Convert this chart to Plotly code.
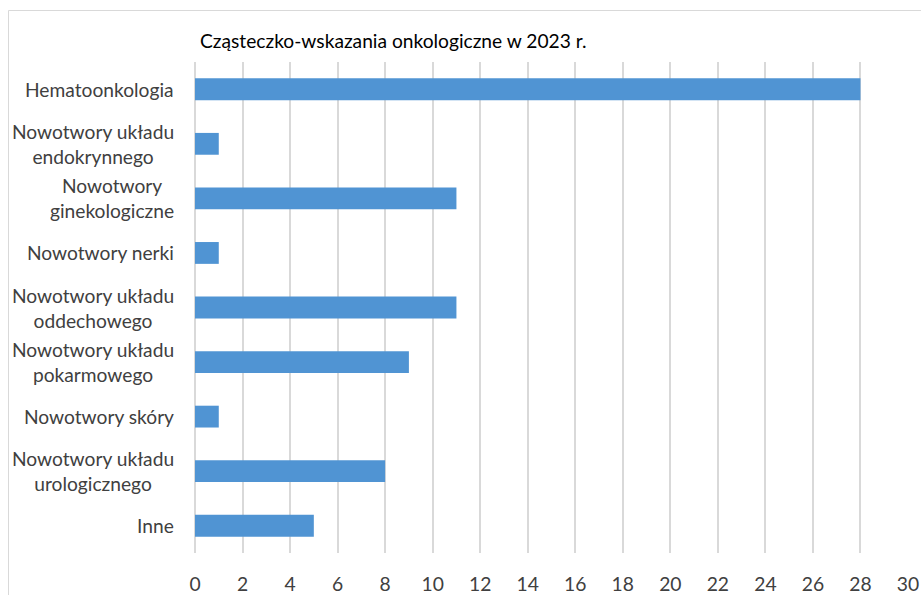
import plotly.graph_objects as go

categories = [
    "Hematoonkologia",
    "Nowotwory układu<br>endokrynnego",
    "Nowotwory<br>ginekologiczne",
    "Nowotwory nerki",
    "Nowotwory układu<br>oddechowego",
    "Nowotwory układu<br>pokarmowego",
    "Nowotwory skóry",
    "Nowotwory układu<br>urologicznego",
    "Inne",
]
values = [28, 1, 11, 1, 11, 9, 1, 8, 5]
title_text = "Cząsteczko-wskazania onkologiczne w 2023 r."
x_ticks = list(range(0, 31, 2))

W, H = 921, 595
ML, MR, MT, MB = 195, 13, 62, 42
FONT = "Lato, 'Noto Sans', sans-serif"
GRID = "#d9d9d9"

fig = go.Figure(
    go.Bar(
        y=categories,
        x=values,
        orientation="h",
        marker=dict(color="#5094d3", line=dict(width=0)),
        hoverinfo="x+y",
    )
)

annotations = [
    dict(
        x=0, xref="paper", xanchor="right", xshift=-19,
        y=c, yref="y", yanchor="middle",
        text=c, showarrow=False, align="center",
        font=dict(family=FONT, size=19.2, color="#404040"),
    )
    for c in categories
]

pw = W - ML - MR
ph = H - MT - MB
fig.update_layout(
    width=W, height=H,
    margin=dict(l=ML, r=MR, t=MT, b=MB, autoexpand=False),
    paper_bgcolor="white", plot_bgcolor="white",
    showlegend=False,
    bargap=0.6,
    title=dict(
        text=title_text, x=200 / W, xanchor="left", xref="container",
        y=1 - 41 / H, yanchor="middle", yref="container",
        font=dict(family=FONT, size=19.2, color="black"),
    ),
    xaxis=dict(
        range=[0, 30], tickvals=x_ticks, showgrid=True, gridcolor=GRID, gridwidth=1.5,
        zeroline=True, zerolinecolor=GRID, zerolinewidth=1.5, showline=False,
        tickfont=dict(family=FONT, size=19.3, color="#404040"),
        ticklabelstandoff=18, fixedrange=True, automargin=False,
    ),
    yaxis=dict(
        autorange="reversed", showticklabels=False, showgrid=False, zeroline=False,
        showline=False, fixedrange=True, automargin=False,
    ),
    annotations=annotations,
    shapes=[
        dict(
            type="rect", xref="paper", yref="paper",
            x0=(8.5 - ML) / pw, x1=(W + 20 - ML) / pw,
            y0=-(H + 20 - MT - ph) / ph, y1=1 + (MT - 10.5) / ph,
            line=dict(color=GRID, width=1), fillcolor="rgba(0,0,0,0)", layer="below",
        )
    ],
)

fig.write_html(
    "out.html",
    config={"displayModeBar": False},
    post_script="document.documentElement.style.overflow='hidden';"
                "document.body.style.overflow='hidden';"
                "document.body.style.margin='0';",
)
